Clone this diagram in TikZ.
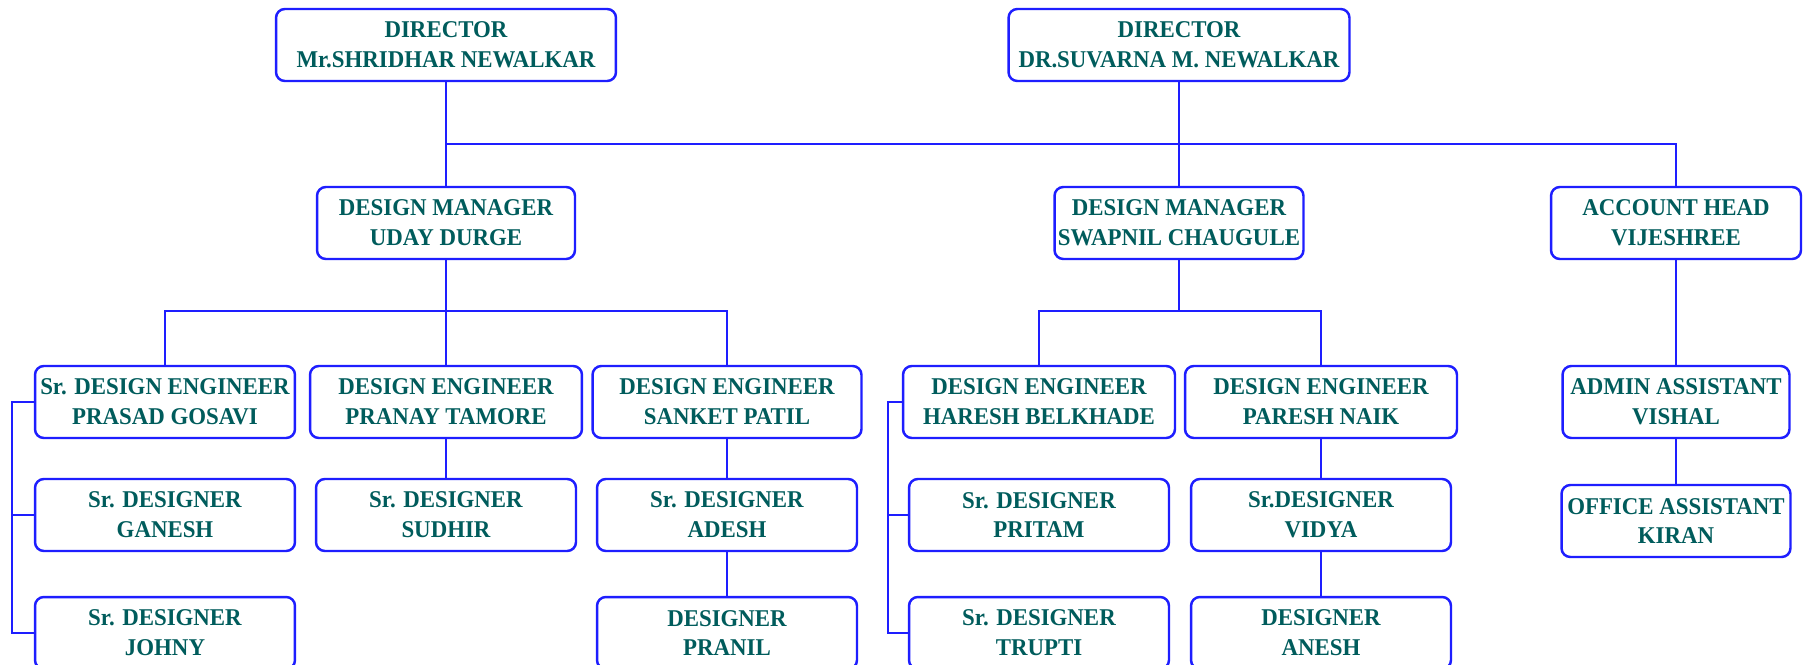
\documentclass[tikz,border=0pt]{standalone}
\usepackage{fontspec}
\setmainfont{Liberation Serif}[FakeStretch=0.95]
\usepackage{xcolor}
\usepackage{tikz}
\usetikzlibrary{calc}
\definecolor{boxblue}{RGB}{30,30,255}
\definecolor{nameteal}{RGB}{0,92,92}

\tikzset{
    post/.style={draw=boxblue, line width=1.4pt, rounded corners=5pt,
        text=nameteal, font=\fontsize{13.7}{17}\selectfont\bfseries,
        align=center, inner sep=0pt, minimum height=1.44cm},
    link/.style={draw=boxblue, line width=1.15pt}
}

\begin{document}
\begin{tikzpicture}[x=0.02cm, y=-0.02cm]
    % Page
    \clip (0,0) rectangle (1806,664);
    \fill[white] (0,0) rectangle (1806,664);

    % Directors
    \node[post, minimum width=6.8cm] (dir1) at (446,45) {DIRECTOR\\Mr.SHRIDHAR NEWALKAR};
    \node[post, minimum width=6.82cm] (dir2) at (1179,45) {DIRECTOR\\DR.SUVARNA M. NEWALKAR};

    % Heads
    \node[post, minimum width=5.16cm] (dm1) at (446,223) {DESIGN MANAGER\\UDAY DURGE};
    \node[post, minimum width=4.98cm] (dm2) at (1179,223) {DESIGN MANAGER\\SWAPNIL CHAUGULE};
    \node[post, minimum width=5.0cm] (acc) at (1676,223) {ACCOUNT HEAD\\VIJESHREE};

    % Engineers
    \node[post, minimum width=5.2cm] (prasad) at (165,402) {Sr. DESIGN ENGINEER\\PRASAD GOSAVI};
    \node[post, minimum width=5.44cm] (pranay) at (446,402) {DESIGN ENGINEER\\PRANAY TAMORE};
    \node[post, minimum width=5.38cm] (sanket) at (727,402) {DESIGN ENGINEER\\SANKET PATIL};
    \node[post, minimum width=5.44cm] (haresh) at (1039,402) {DESIGN ENGINEER\\HARESH BELKHADE};
    \node[post, minimum width=5.44cm] (paresh) at (1321,402) {DESIGN ENGINEER\\PARESH NAIK};
    \node[post, minimum width=4.54cm] (admin) at (1676,402) {ADMIN ASSISTANT\\VISHAL};

    % Designers
    \node[post, minimum width=5.2cm] (ganesh) at (165,515) {Sr. DESIGNER\\GANESH};
    \node[post, minimum width=5.2cm] (sudhir) at (446,515) {Sr. DESIGNER\\SUDHIR};
    \node[post, minimum width=5.2cm] (adesh) at (727,515) {Sr. DESIGNER\\ADESH};
    \node[post, minimum width=5.2cm] (pritam) at (1039,515) {Sr. DESIGNER\\PRITAM};
    \node[post, minimum width=5.2cm] (vidya) at (1321,515) {Sr.DESIGNER\\VIDYA};
    \node[post, minimum width=4.58cm] (kiran) at (1676,521) {OFFICE ASSISTANT\\KIRAN};

    \node[post, minimum width=5.2cm] (johny) at (165,633) {Sr. DESIGNER\\JOHNY};
    \node[post, minimum width=5.2cm] (pranil) at (727,633) {DESIGNER\\PRANIL};
    \node[post, minimum width=5.2cm] (trupti) at (1039,633) {Sr. DESIGNER\\TRUPTI};
    \node[post, minimum width=5.2cm] (anesh) at (1321,633) {DESIGNER\\ANESH};

    % Top bus
    \coordinate (bus1) at (0,144);
    \draw[link] (dir1.south) -- (dir1.south |- bus1) -| (acc.north);
    \draw[link] (dm1.north) -- (dm1.north |- bus1);
    \draw[link] (dir2.south) -- (dm2.north);

    % Manager buses
    \coordinate (bus2) at (0,311);
    \draw[link] (dm1.south) -- (pranay.north);
    \draw[link] (prasad.north) |- (sanket.north |- bus2) -- (sanket.north);
    \draw[link] (dm2.south) -- (dm2.south |- bus2);
    \draw[link] (haresh.north) |- (paresh.north |- bus2) -- (paresh.north);
    \draw[link] (acc.south) -- (admin.north);

    % Chains
    \draw[link] (pranay.south) -- (sudhir.north);
    \draw[link] (sanket.south) -- (adesh.north);
    \draw[link] (adesh.south) -- (pranil.north);
    \draw[link] (paresh.south) -- (vidya.north);
    \draw[link] (vidya.south) -- (anesh.north);
    \draw[link] (admin.south) -- (kiran.north);

    % Side brackets
    \coordinate (sideL) at (12,0);
    \draw[link] (prasad.west) -- (prasad.west -| sideL) |- (johny.west);
    \draw[link] (ganesh.west) -- (ganesh.west -| sideL);
    \coordinate (sideR) at (888,0);
    \draw[link] (haresh.west) -- (haresh.west -| sideR) |- (trupti.west);
    \draw[link] (pritam.west) -- (pritam.west -| sideR);
\end{tikzpicture}
\end{document}
